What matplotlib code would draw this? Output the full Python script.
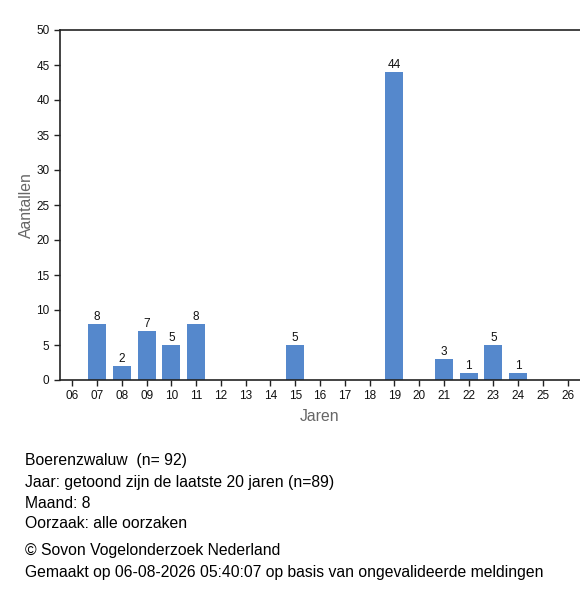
import matplotlib
matplotlib.use('Agg')
import matplotlib.pyplot as plt

plt.rcParams['font.family'] = ['Liberation Sans', 'DejaVu Sans']

# jaren en aantallen (augustus)
jaren = ['06', '07', '08', '09', '10', '11', '12', '13', '14', '15', '16',
         '17', '18', '19', '20', '21', '22', '23', '24', '25', '26']
aantallen = [0, 8, 2, 7, 5, 8, 0, 0, 0, 5, 0, 0, 0, 44, 0, 3, 1, 5, 1, 0, 0]

info = ['Boerenzwaluw  (n= 92)',
        'Jaar: getoond zijn de laatste 20 jaren (n=89)',
        'Maand: 8',
        'Oorzaak: alle oorzaken']
bron = ['\u00a9 Sovon Vogelonderzoek Nederland',
        'Gemaakt op 06-08-2026 05:40:07 op basis van ongevalideerde meldingen']

fig = plt.figure(figsize=(5.8, 6.0), dpi=100)
ax = fig.add_axes([60/580, 220/600, 520/580, 350/600])

x = range(len(jaren))
bars = ax.bar(x, aantallen, width=0.73, color='#5588cc')
for xi, v in zip(x, aantallen):
    if v > 0:
        ax.text(xi, v + 0.15, str(v), ha='center', va='bottom', fontsize=8.5, color='#111111')

ax.set_xlim(-0.5, len(jaren) - 0.5)
ax.set_ylim(0, 50)
ax.set_yticks(range(0, 51, 5))
ax.set_xticks(list(x))
ax.set_xticklabels(jaren)
ax.tick_params(labelsize=8.5, length=4, width=1, colors='#222222', labelcolor='#111111')
ax.tick_params(axis='x', pad=3)

ax.spines['right'].set_visible(False)
for s in ['left', 'bottom', 'top']:
    ax.spines[s].set_color('#222222')
    ax.spines[s].set_linewidth(1.2)

ax.set_ylabel('Aantallen', fontsize=11.3, color='#666666', labelpad=2)
ax.set_xlabel('Jaren', fontsize=11.3, color='#666666', labelpad=5)

ys = [461, 483, 503, 523]
for y, t in zip(ys, info):
    fig.text(25/580, 1 - y/600, t, fontsize=11.3, va='center', ha='left')
for y, t in zip([551, 572], bron):
    fig.text(25/580, 1 - y/600, t, fontsize=11.3, va='center', ha='left')

fig.savefig('out.png', dpi=100)
